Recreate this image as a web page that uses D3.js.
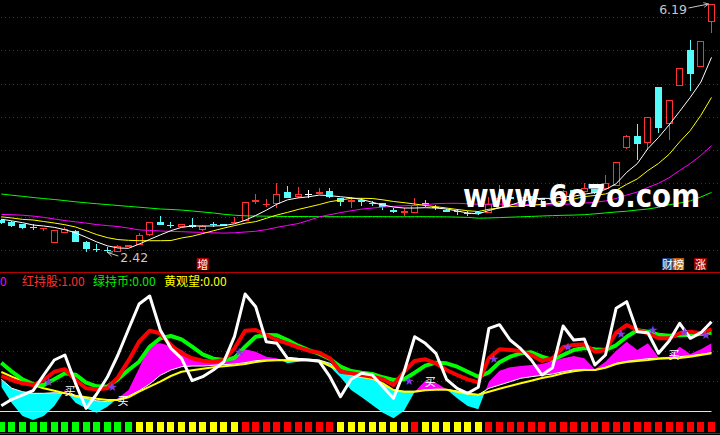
<!DOCTYPE html>
<html><head><meta charset="utf-8">
<script src="https://cdn.jsdelivr.net/npm/d3@7/dist/d3.min.js"></script>
<style>
html,body{margin:0;padding:0;background:#000;overflow:hidden}
svg{display:block}
</style></head>
<body>
<svg id="chart" width="720" height="435"></svg>
<script>
// ---------------- DATA ----------------
const openP = [2.92,2.885,2.855,2.82,2.78,2.576,2.718,2.753,2.591,2.48, 2.46,2.44,2.51,2.541,2.697,2.889,2.85,2.818,2.844,2.764, 2.857,2.86,2.88,2.904,3.188,3.155,3.157,3.348,3.263,3.31, 3.313,3.359,3.248,3.197,3.222,3.175,3.172,3.071,3.03,3.03, 3.172,3.11,3.071,3.06,3.025,3.04,3.021,3.106,3.265,3.26, 3.283,3.253,3.22,3.238,3.374,3.339,3.384,3.389,3.439,4.014, 4.191,4.081,4.929,4.369,4.953,5.493,5.231,5.922];
const highP = [2.94,2.90,2.86,2.855,2.80,2.768,2.818,2.768,2.595,2.552, 2.51,2.54,2.545,2.727,2.885,2.98,2.885,2.86,2.945,2.84, 2.894,2.865,2.97,3.19,3.309,3.238,3.475,3.439,3.424,3.374, 3.40,3.40,3.25,3.272,3.248,3.207,3.175,3.106,3.097,3.257, 3.222,3.147,3.08,3.086,3.056,3.06,3.272,3.45,3.28,3.29, 3.29,3.26,3.26,3.37,3.38,3.475,3.39,3.60,3.80,4.20, 4.373,4.48,4.93,4.74,5.22,5.645,5.63,6.19];
const lowP = [2.86,2.82,2.79,2.773,2.75,2.57,2.718,2.59,2.44,2.44, 2.42,2.44,2.51,2.54,2.68,2.84,2.80,2.815,2.80,2.76, 2.818,2.825,2.88,2.90,3.157,3.121,3.097,3.25,3.248,3.257, 3.31,3.248,3.136,3.106,3.136,3.136,3.071,3.021,2.985,3.03, 3.121,3.071,3.04,2.995,2.985,3.00,3.02,3.10,3.23,3.25, 3.24,3.17,3.21,3.23,3.31,3.33,3.32,3.38,3.43,4.00, 3.828,3.979,4.241,4.131,4.95,4.877,5.23,5.755];
const closeP = [2.88,2.833,2.803,2.815,2.80,2.768,2.779,2.591,2.481,2.475, 2.455,2.526,2.54,2.693,2.885,2.844,2.845,2.855,2.809,2.833, 2.853,2.83,2.89,3.188,3.222,3.16,3.309,3.257,3.309,3.31, 3.348,3.272,3.197,3.222,3.188,3.171,3.121,3.045,3.056,3.147, 3.147,3.105,3.045,3.055,3.02,3.035,3.157,3.248,3.245,3.275, 3.248,3.222,3.24,3.359,3.324,3.409,3.333,3.48,3.793,4.191, 4.07,4.475,4.317,4.736,5.216,5.126,5.63,6.19];

const ma5 = [2.932,2.906,2.879,2.844,2.829,2.808,2.773,2.726,2.659,2.588, 2.529,2.496,2.491,2.555,2.626,2.694,2.758,2.808,2.829,2.829, 2.829,2.835,2.862,2.915,2.988,3.068,3.159,3.225,3.254,3.271, 3.297,3.288,3.272,3.256,3.230,3.188,3.147,3.116,3.101,3.101, 3.106,3.101,3.086,3.056,3.026,3.012,3.063,3.104,3.142,3.193, 3.236,3.248,3.246,3.269,3.279,3.311,3.334,3.382,3.468,3.641, 3.773,4.001,4.169,4.359,4.565,4.777,5.008,5.382];
const ma10 = [2.968,2.950,2.929,2.920,2.897,2.874,2.848,2.814,2.758,2.699, 2.653,2.623,2.612,2.606,2.606,2.606,2.609,2.647,2.674,2.714, 2.756,2.797,2.835,2.871,2.895,2.945,2.995,3.035,3.079,3.116, 3.154,3.197,3.222,3.248,3.248,3.245,3.225,3.200,3.182,3.162, 3.139,3.121,3.101,3.079,3.060,3.048,3.082,3.103,3.122,3.134, 3.144,3.156,3.175,3.206,3.236,3.274,3.291,3.314,3.369,3.460, 3.542,3.668,3.776,3.914,4.103,4.275,4.505,4.776];
const ma20 = [3.004,3.000,2.992,2.979,2.960,2.935,2.911,2.892,2.873,2.850, 2.835,2.821,2.797,2.770,2.761,2.753,2.747,2.743,2.736,2.732, 2.726,2.721,2.726,2.738,2.749,2.774,2.808,2.838,2.865,2.914, 2.967,3.000,3.032,3.059,3.085,3.100,3.115,3.126,3.135,3.142, 3.153,3.166,3.172,3.172,3.166,3.159,3.161,3.161,3.157,3.156, 3.151,3.148,3.150,3.157,3.164,3.176,3.187,3.208,3.245,3.297, 3.343,3.412,3.475,3.560,3.670,3.774,3.898,4.045];
const ma60 = [3.313,3.295,3.278,3.260,3.244,3.230,3.213,3.195,3.180,3.166, 3.153,3.139,3.126,3.113,3.100,3.086,3.079,3.070,3.056,3.041, 3.026,3.006,2.992,2.983,2.980,2.977,2.975,2.973,2.972,2.971, 2.970,2.970,2.969,2.970,2.970,2.971,2.970,2.969,2.969,2.970, 2.970,2.969,2.967,2.964,2.959,2.947,2.950,2.956,2.962,2.968, 2.974,2.980,2.986,2.991,2.994,3.000,3.013,3.027,3.041,3.053, 3.071,3.086,3.112,3.150,3.177,3.209,3.268,3.337];
const priceGrid = [2.465,2.969,3.473,3.977,4.481,4.985,5.489,5.993];

// lower indicator panel
const oscWhite = [5.3,11.7,16,20.3,36,51,56,27.7,2.7,17, 33.7,56,81.7,107,115,81,62.7,52.7,30.3,34.3, 41,49.3,74.7,117,104.3,69.3,67.7,52.7,51.7,51, 49.7,34.3,14.3,31.7,37.7,36,24.3,12.7,39.3,74.3, 67.7,57.7,31.7,22.7,17.7,23.7,82.7,86.3,71,62.3, 51,36,43.3,85,71,72,46,56,102.7,109.3, 79.3,78.3,57.7,70,87.7,72.7,78.3,89.3];
const oscRed = [35,31,27.7,26,31,39.3,41.7,31,22.7,21.7, 22.7,33.7,50.3,69.3,80.3,77.7,66,57.7,52.7,50.3, 49.3,51,62.7,80.3,81,76,71,67.7,63.7,60.3, 58.3,52.7,39.3,37.7,36,34.3,31.7,26,39.3,50, 51.7,47.7,41,36,31.7,28.7,52.7,61.7,61,60, 56,50,52.7,63.7,66,66.7,59.3,61,78.3,86, 81,77.7,72.7,72.7,77.7,79.3,77.7,81.7];
const oscGreen = [48.3,39.3,31.7,27,26,31.7,37.7,36.3,28.3,24.7, 24.3,31.7,41,49.3,64.3,72.7,75,71.7,64.3,56.7, 52.3,51,53,64.3,74.3,76,75.7,71,65.3,61, 57,52,44.3,40,38.3,37,33.7,31,31.7,38.3, 45.3,48.3,47.7,44.3,39.3,34.3,38.7,48.7,54.3,57.7, 58.7,54.3,51,56,61,63,61.7,61,65.7,74.3, 80.7,79.3,76.3,75.3,75.7,76.3,77,78.3];
const oscYellow = [39,34.3,30,26,22.7,20.3,17.7,15.3,13.7,12.3, 11,11,13.7,19.3,24.3,29.3,35,39.3,40.7,42.3, 43.7,44.7,45.7,47,49,50.3,50.7,50.7,50.7,50.7, 50,45,40.3,36,34,32.3,27.7,21,19.3,19.3, 20.7,21.3,21.3,19.3,17.3,16.3,19.3,22.3,25,27.7, 30.3,33,35,37.7,39.7,41,41,43.3,47,49, 50,51,52.3,52.7,53,54.3,56,57.7];
const oscThin = [31.7,22.7,19.3,17.7,17.7,18.3,17.7,14.3,12.7,10.3, 9.3,11.7,15,20.3,27,35.7,41,44.3,45,45, 45.7,46.3,47,48.3,50.3,51,51,51,51.7,51.7, 51,47.7,41,37,34.3,32.3,26,21,19.7,19.7, 21,21.7,21.7,20,17.7,16.3,22.7,26,29.3,32.7, 34.3,35.7,37,39.3,41,41.7,41,43.7,47.7,49.7, 51,52.3,52.7,53.3,54.3,55.3,56.7,58.3];
const oscBand = [24.3,7.7,-5,-9,-5,5,21,8.3,2.7,-1.7, 4.3,12.7,21,42.7,67,67.7,65,61,52.7,49.3, 48.3,49.3,56,61.7,59.3,54.3,52.7,47.7,49.3,50.3, 49.3,44.3,33.7,21,13.7,6,-1.7,-7.3,0.3,19.3, 30.3,28.3,21.7,12.7,5,1.7,29.3,40.3,43.7,45, 46,47,50.3,52.7,55,52.7,41.7,49.3,60.3,69.3, 61,67.7,53.7,54.3,64.3,57,61.7,67.7];
const oscGrid = [30,60,90];
const statusCodes = ("GGGGGGGGGGGGG"+"YYYYYYYYYY"+"RRRRRRRRR"+"YYYYYYY"+"R"+"YYYYYY"+"RRRRRRRRRRR"+"RRRRRRRRRRR").split("");
const starBars = [4,10,22,38,46,53,58,61,64,66];
const starLevels = [29.3,25,59.3,31,52.7,64.3,77.7,81.7,79.3,77];
const buyBars = [6,11,40,63];
const buyLevels = [21,11,30,57];
const legendTexts = ["0","红持股:1.00","绿持币:0.00","黄观望:0.00"];
const legendColors = ["#ff00ff","#ff3030","#00f000","#ffff00"];
const highLabel = "6.19", lowLabel = "2.42";

// ---------------- SCALES ----------------
const svg = d3.select("#chart");
const idx = closeP.map((d,i)=>i);
const x = d3.scaleLinear().domain([0,67]).range([1.3,711.5]);
const y = d3.scaleLinear().domain([2.42,6.19]).range([253,4]);
const yo = d3.scaleLinear().domain([0,138]).range([411,273]);

svg.append("rect").attr("width",720).attr("height",435).attr("fill","#000");
const defs = svg.append("defs");
defs.append("clipPath").attr("id","mainClip").append("rect").attr("x",0).attr("y",0).attr("width",720).attr("height",271);
defs.append("clipPath").attr("id","oscClip").append("rect").attr("x",0).attr("y",273).attr("width",720).attr("height",162);
defs.append("marker").attr("id","arr").attr("viewBox","0 0 10 10").attr("refX",9).attr("refY",5)
  .attr("markerWidth",6).attr("markerHeight",6).attr("orient","auto-start-reverse")
  .append("path").attr("d","M1,1 L9,5 L1,9").attr("fill","none").attr("stroke","#c8c8c8").attr("stroke-width",1.4);

// grid lines
const grid = svg.append("g").attr("shape-rendering","crispEdges");
const dotted = (yy) => grid.append("line").attr("x1",1).attr("x2",720)
  .attr("y1",Math.round(yy)+0.5).attr("y2",Math.round(yy)+0.5)
  .attr("stroke","#b00000").attr("stroke-dasharray","1,3");
priceGrid.forEach(p=>dotted(y(p)));
oscGrid.forEach(v=>dotted(yo(v)));
svg.append("line").attr("x1",0).attr("x2",720).attr("y1",272.5).attr("y2",272.5).attr("stroke","#b40000");

// ---------------- MAIN PANEL ----------------
const main = svg.append("g").attr("clip-path","url(#mainClip)");
const cg = main.append("g").attr("shape-rendering","crispEdges");
idx.forEach(i=>{
  const o=openP[i], c=closeP[i], h=highP[i], l=lowP[i];
  const left = Math.round(x(i)-3.5);
  const cx = left+3.5;
  const up = c>o, flat = c===o;
  const col = flat ? "#ffffff" : (up ? "#ff3232" : "#54fcfc");
  const top = Math.round(y(Math.max(o,c))), bot = Math.round(y(Math.min(o,c)));
  const yh = Math.round(y(h)), yl = Math.round(y(l));
  if (yh < top) cg.append("line").attr("x1",cx).attr("x2",cx).attr("y1",yh).attr("y2",top).attr("stroke",col);
  if (yl > bot) cg.append("line").attr("x1",cx).attr("x2",cx).attr("y1",bot).attr("y2",yl).attr("stroke",col);
  const bh = bot-top;
  if (flat || bh < 1) {
    cg.append("rect").attr("x",left).attr("y",top).attr("width",7).attr("height",1).attr("fill",col);
  } else if (up && bh > 2) {
    cg.append("rect").attr("x",left+0.5).attr("y",top+0.5).attr("width",6).attr("height",bh-1)
      .attr("fill","#000").attr("stroke",col);
  } else {
    cg.append("rect").attr("x",left).attr("y",top).attr("width",7).attr("height",bh).attr("fill",col);
  }
});

const maLine = d3.line().x((d,i)=>x(i)).y(d=>y(d));
[[ma60,"#00ff00"],[ma20,"#ff00ff"],[ma10,"#ffff00"],[ma5,"#ffffff"]].forEach(([arr,col])=>{
  main.append("path").attr("d",maLine(arr)).attr("fill","none").attr("stroke",col).attr("stroke-width",1);
});

// extreme labels
const hiX = x(67), hiY = y(highP[67]);
main.append("line").attr("x1",hiX-23).attr("y1",hiY+4).attr("x2",hiX-3).attr("y2",hiY)
  .attr("stroke","#c8c8c8").attr("marker-end","url(#arr)");
main.append("text").attr("x",hiX-24.5).attr("y",hiY+10).attr("text-anchor","end")
  .attr("font-family","DejaVu Sans, sans-serif").attr("font-size",12.5).attr("fill","#c8c8c8").text(highLabel);
const loX = x(10), loY = y(lowP[10]);
main.append("line").attr("x1",loX+11).attr("y1",loY+3).attr("x2",loX+0.5).attr("y2",loY-0.5)
  .attr("stroke","#c8c8c8").attr("marker-end","url(#arr)");
main.append("text").attr("x",loX+13).attr("y",loY+8.5)
  .attr("font-family","DejaVu Sans, sans-serif").attr("font-size",12.5).attr("fill","#c8c8c8").text(lowLabel);

// badges
const badge = (cx, w, bg, ch) => {
  svg.append("rect").attr("x",cx-w/2).attr("y",258).attr("width",w).attr("height",12).attr("fill",bg);
  svg.append("text").attr("x",cx).attr("y",268.5).attr("text-anchor","middle")
    .attr("font-family","Noto Sans CJK SC, sans-serif").attr("font-size",11).attr("fill","#fff").text(ch);
};
badge(x(19), 12, "#b00000", "增");
badge(x(63)-1.5, 10.5, "#1e3f86", "财");
badge(x(64)-1.3, 11.5, "#b8600e", "榜");
badge(x(66)-0.5, 12.5, "#a00000", "涨");

// watermark
svg.append("text").attr("x",463).attr("y",207).attr("font-family","DejaVu Sans, sans-serif")
  .attr("font-weight","bold").attr("font-size",32).attr("fill","#ffffff")
  .attr("textLength",237).attr("lengthAdjust","spacingAndGlyphs").text("www.6o7o.com");

// ---------------- LOWER PANEL ----------------
const osc = svg.append("g").attr("clip-path","url(#oscClip)");
defs.append("clipPath").attr("id","aboveThin").append("path")
  .attr("d", d3.area().x((d,i)=>x(i)).y0(273).y1(d=>yo(d))(oscThin));
defs.append("clipPath").attr("id","belowThin").append("path")
  .attr("d", d3.area().x((d,i)=>x(i)).y0(d=>yo(d)).y1(435)(oscThin));
const band = d3.area().x(i=>x(i)).y0(i=>yo(oscThin[i])).y1(i=>yo(oscBand[i]));
osc.append("path").attr("d",band(idx)).attr("fill","#ff00ff").attr("clip-path","url(#aboveThin)");
osc.append("path").attr("d",band(idx)).attr("fill","#00ffff").attr("clip-path","url(#belowThin)");

osc.append("line").attr("x1",0).attr("x2",x(67)).attr("y1",yo(0)+0.5).attr("y2",yo(0)+0.5).attr("stroke","#ffff00");

const oLine = d3.line().x((d,i)=>x(i)).y(d=>yo(d));
[[oscThin,"#ffffff",1],[oscYellow,"#ffff00",2],[oscGreen,"#00ff00",4],[oscRed,"#ff0000",4],[oscWhite,"#ffffff",3]]
 .forEach(([arr,col,w])=>{
  osc.append("path").attr("d",oLine(arr)).attr("fill","none").attr("stroke",col)
    .attr("stroke-width",w).attr("stroke-linejoin","round");
 });

starBars.forEach((b,k)=>{
  osc.append("text").attr("x",x(b)+5).attr("y",yo(starLevels[k])+4.5).attr("text-anchor","middle")
    .attr("font-family","DejaVu Sans, sans-serif").attr("font-size",12).attr("fill","#7b3fe4").text("★");
});
buyBars.forEach((b,k)=>{
  osc.append("text").attr("x",x(b)+5).attr("y",yo(buyLevels[k])+5).attr("text-anchor","middle")
    .attr("font-family","Noto Sans CJK SC, sans-serif").attr("font-size",11).attr("fill","#ffffff").text("买");
});

// status squares
const sqColor = {G:"#00ff00",Y:"#ffff00",R:"#ff0000"};
svg.append("g").attr("shape-rendering","crispEdges").selectAll("rect").data(statusCodes).join("rect")
  .attr("x",(d,i)=>Math.round(x(i)-3.5)).attr("y",422).attr("width",7).attr("height",10)
  .attr("fill",d=>sqColor[d]);
svg.append("line").attr("x1",0).attr("x2",720).attr("y1",433.5).attr("y2",433.5).attr("stroke","#c00000");

// legend
const legX = [0,22,93,164];
legendTexts.forEach((t,k)=>{
  svg.append("text").attr("x",legX[k]).attr("y",286).attr("font-family","Noto Sans CJK SC, sans-serif")
    .attr("font-size",12).attr("fill",legendColors[k]).text(t);
});
</script>
</body></html>
